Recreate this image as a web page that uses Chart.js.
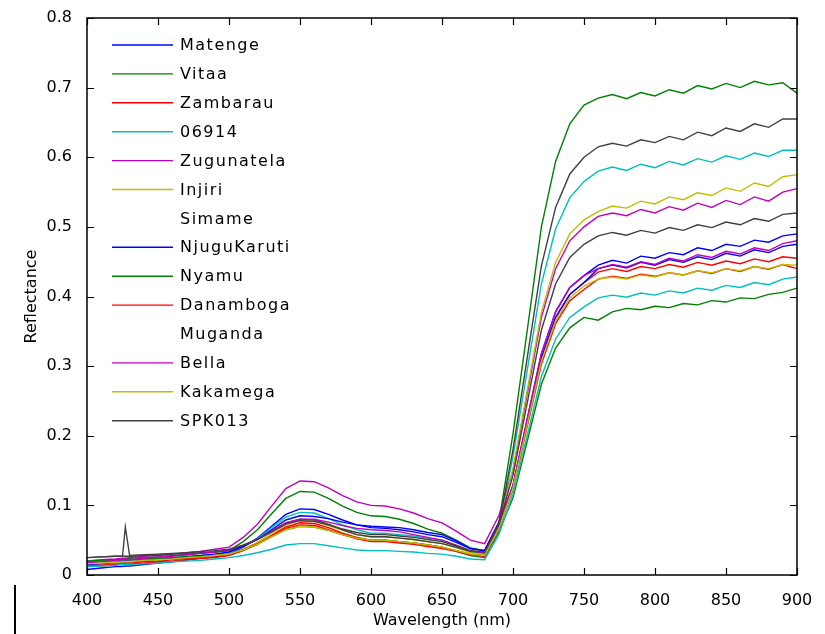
<!DOCTYPE html>
<html>
<head>
<meta charset="utf-8">
<title>Reflectance</title>
<script src="https://cdn.jsdelivr.net/npm/chart.js@4.4.1/dist/chart.umd.min.js"></script>
<style>
  body { margin: 0; background: #fff; }
  #chart { display: block; }
</style>
</head>
<body>
<canvas id="chart" width="825" height="634"></canvas>
<script>
// wavelengths (nm) shared by every curve
var wl = [400,410,420,425,427,430,440,450,460,470,480,490,500,
          510,520,530,540,550,560,570,580,590,600,610,620,630,640,650,
          660,670,680,690,700,710,720,730,740,750,
          760,770,780,790,800,810,820,830,840,850,860,870,880,890,900];

var names = ["Matenge","Vitaa","Zambarau","06914","Zugunatela","Injiri","Simame",
             "NjuguKaruti","Nyamu","Danamboga","Muganda","Bella","Kakamega","SPK013"];

// matlab default line colours, cycling
var colors = ["#0000ff","#008000","#ff0000","#00bfbf","#bf00bf","#bfbf00","#404040",
              "#0000ff","#008000","#ff0000","#00bfbf","#bf00bf","#bfbf00","#404040"];

// legend rows that show no line sample in the figure
var noSample = ["Simame","Muganda"];

var matenge = [.008,.010,.012,.012,.013,.013,.015,.017,.019,.022,.024,.026,.030,
  .040,.053,.070,.087,.095,.094,.087,.079,.072,.068,.067,.065,.062,.058,.055,
  .047,.038,.035,.075,.129,.224,.318,.378,.413,.430,
  .445,.452,.448,.458,.455,.463,.460,.470,.466,.475,.472,.481,.478,.487,.490];
var vitaa = [.020,.021,.022,.023,.023,.024,.025,.026,.028,.029,.031,.033,.035,
  .048,.065,.088,.110,.120,.119,.110,.099,.090,.085,.084,.080,.074,.066,.060,
  .050,.039,.035,.075,.203,.351,.500,.594,.648,.675,
  .685,.690,.684,.693,.688,.697,.692,.703,.698,.706,.700,.709,.704,.707,.692];
var zambarau = [.012,.013,.015,.015,.015,.016,.017,.019,.020,.022,.024,.025,.028,
  .035,.044,.057,.069,.075,.074,.068,.060,.054,.050,.050,.048,.046,.043,.040,
  .035,.030,.028,.068,.126,.218,.311,.370,.403,.420,
  .435,.440,.436,.443,.440,.446,.442,.449,.445,.451,.447,.454,.450,.457,.455];
var v06914 = [.018,.019,.020,.021,.021,.021,.023,.024,.025,.027,.028,.030,.032,
  .041,.052,.068,.083,.090,.089,.081,.072,.065,.060,.060,.058,.056,.053,.050,
  .042,.033,.030,.070,.170,.294,.418,.497,.542,.565,
  .580,.586,.581,.590,.585,.594,.589,.598,.593,.602,.597,.606,.601,.610,.610];
var zugunatela = [.020,.022,.023,.024,.024,.025,.027,.028,.030,.032,.034,.037,.040,
  .054,.073,.099,.124,.135,.134,.125,.114,.105,.100,.099,.095,.089,.081,.075,
  .063,.050,.045,.085,.150,.260,.370,.440,.480,.500,
  .515,.520,.516,.525,.520,.529,.524,.534,.528,.538,.532,.543,.537,.550,.555];
var injiri = [.015,.016,.017,.018,.018,.019,.020,.021,.023,.024,.026,.028,.030,
  .037,.047,.060,.072,.078,.077,.071,.064,.058,.055,.055,.053,.051,.048,.045,
  .039,.032,.030,.070,.153,.265,.377,.449,.490,.510,
  .522,.530,.527,.537,.533,.543,.539,.549,.545,.556,.551,.563,.558,.572,.575];
var simame = [.025,.026,.027,.027,.027,.027,.028,.029,.030,.031,.032,.033,.035,
  .042,.051,.063,.075,.080,.079,.073,.065,.058,.055,.055,.053,.051,.048,.045,
  .040,.034,.032,.072,.180,.312,.444,.528,.576,.600,
  .615,.620,.616,.625,.621,.630,.625,.636,.631,.642,.637,.648,.643,.655,.655];
var njugukaruti = [.015,.016,.018,.019,.019,.019,.021,.023,.024,.026,.028,.030,.033,
  .041,.051,.065,.079,.085,.084,.081,.076,.072,.070,.069,.068,.065,.061,.058,
  .049,.038,.035,.075,.126,.218,.311,.370,.403,.420,
  .440,.445,.441,.449,.445,.453,.449,.457,.453,.462,.458,.467,.463,.472,.475];
var nyamu = [.020,.021,.022,.022,.022,.022,.023,.024,.025,.026,.027,.028,.030,
  .036,.044,.055,.065,.070,.069,.064,.058,.053,.050,.050,.048,.046,.043,.040,
  .034,.028,.025,.062,.111,.192,.274,.326,.355,.370,
  .366,.378,.383,.381,.386,.384,.390,.388,.394,.392,.398,.397,.403,.406,.412];
var danamboga = [.013,.014,.016,.016,.017,.017,.019,.020,.022,.024,.025,.027,.030,
  .036,.045,.056,.067,.072,.071,.065,.058,.052,.048,.048,.046,.044,.041,.038,
  .034,.029,.027,.066,.123,.213,.303,.361,.394,.410,
  .425,.429,.426,.432,.429,.434,.431,.437,.433,.440,.436,.443,.439,.446,.440];
var muganda = [.012,.013,.014,.015,.015,.015,.016,.017,.019,.020,.021,.023,.025,
  .028,.032,.037,.043,.045,.045,.042,.039,.036,.035,.035,.034,.033,.031,.030,
  .027,.023,.022,.058,.116,.200,.285,.339,.370,.385,
  .398,.402,.399,.405,.402,.408,.405,.412,.409,.416,.413,.420,.417,.425,.428];
var bella = [.018,.019,.021,.022,.022,.022,.024,.026,.027,.029,.031,.033,.036,
  .043,.051,.063,.075,.080,.080,.076,.071,.067,.065,.064,.062,.058,.054,.050,
  .043,.035,.032,.072,.129,.224,.318,.378,.413,.430,
  .440,.446,.442,.450,.446,.455,.451,.460,.456,.465,.461,.470,.466,.476,.480];
var kakamega = [.016,.017,.018,.019,.019,.019,.021,.022,.023,.025,.026,.028,.030,
  .036,.044,.055,.065,.070,.069,.064,.058,.053,.050,.050,.048,.046,.043,.040,
  .035,.030,.028,.066,.125,.216,.307,.365,.398,.415,
  .425,.428,.425,.431,.428,.434,.431,.437,.434,.440,.437,.443,.440,.446,.445];
var spk013 = [.025,.026,.027,.027,.069,.028,.029,.030,.031,.032,.034,.035,.037,
  .043,.051,.062,.073,.078,.077,.072,.066,.061,.058,.058,.056,.054,.051,.048,
  .042,.035,.033,.073,.143,.247,.352,.418,.456,.475,
  .487,.492,.488,.495,.491,.499,.495,.503,.499,.507,.503,.512,.508,.518,.520];

var series = [matenge, vitaa, zambarau, v06914, zugunatela, injiri, simame,
              njugukaruti, nyamu, danamboga, muganda, bella, kakamega, spk013];

var yTicks = [0, 0.1, 0.2, 0.3, 0.4, 0.5, 0.6, 0.7, 0.8];
var xTicks = [400, 450, 500, 550, 600, 650, 700, 750, 800, 850, 900];

Chart.defaults.font.family = "'DejaVu Sans', sans-serif";
Chart.defaults.font.size = 16;
Chart.defaults.color = "#000";

var datasets = [];
for (var i = 0; i < names.length; i++) {
	var pts = [];
	for (var k = 0; k < wl.length; k++) {
		pts.push({ x: wl[k], y: series[i][k] });
	}
	datasets.push({
		label: names[i],
		data: pts,
		borderColor: colors[i],
		backgroundColor: colors[i],
		borderWidth: 1.4,
		pointRadius: 0,
		tension: 0,
		fill: false,
		order: names.length - i   // later curves on top, like matlab
	});
}

// box, inward ticks and the in-axes legend
var matlabAxes = {
	id: 'matlabAxes',
	afterDatasetsDraw: function(chart) {
		var ctx = chart.ctx;
		var a = chart.chartArea;
		var xs = chart.scales.x, ys = chart.scales.y;
		var tl = 7;

		ctx.save();
		ctx.strokeStyle = '#000';
		ctx.lineWidth = 1.5;
		ctx.strokeRect(a.left, a.top, a.right - a.left, a.bottom - a.top);

		ctx.lineWidth = 1.2;
		ctx.beginPath();
		xTicks.forEach(function(v) {
			var px = Math.round(xs.getPixelForValue(v)) + 0.5;
			ctx.moveTo(px, a.bottom); ctx.lineTo(px, a.bottom - tl);
			ctx.moveTo(px, a.top); ctx.lineTo(px, a.top + tl);
		});
		yTicks.forEach(function(v) {
			var py = Math.round(ys.getPixelForValue(v)) + 0.5;
			ctx.moveTo(a.left, py); ctx.lineTo(a.left + tl, py);
			ctx.moveTo(a.right, py); ctx.lineTo(a.right - tl, py);
		});
		ctx.stroke();

		// legend
		var x0 = a.left + 25, lineLen = 61, rowTop = a.top + 27, rowH = 28.9;
		ctx.font = "16px 'DejaVu Sans', sans-serif";
		ctx.letterSpacing = "1.5px";
		ctx.textBaseline = 'middle';
		ctx.textAlign = 'left';
		chart.data.datasets.forEach(function(ds, j) {
			var y = rowTop + j * rowH;
			if (noSample.indexOf(ds.label) < 0) {
				ctx.strokeStyle = ds.borderColor;
				ctx.lineWidth = 1.4;
				ctx.beginPath();
				ctx.moveTo(x0, y); ctx.lineTo(x0 + lineLen, y);
				ctx.stroke();
			}
			ctx.fillStyle = '#000';
			ctx.fillText(ds.label, x0 + lineLen + 7, y + 1);
		});

		// stray mark at the lower left of the figure
		ctx.strokeStyle = '#000';
		ctx.lineWidth = 2;
		ctx.beginPath();
		ctx.moveTo(15, 585); ctx.lineTo(15, 634);
		ctx.stroke();
		ctx.restore();
	}
};

new Chart(document.getElementById('chart'), {
	type: 'line',
	data: { datasets: datasets },
	options: {
		responsive: false,
		animation: false,
		layout: { padding: { top: 18, right: 28, left: 0, bottom: 0 } },
		plugins: {
			legend: { display: false },
			tooltip: { enabled: false }
		},
		scales: {
			x: {
				type: 'linear',
				min: 400,
				max: 900,
				afterBuildTicks: function(s) { s.ticks = xTicks.map(function(v) { return { value: v }; }); },
				ticks: { padding: 8, maxRotation: 0, autoSkip: false },
				grid: { display: false },
				border: { display: false },
				title: { display: true, text: 'Wavelength (nm)', padding: { top: 4, bottom: 4 } },
				afterFit: function(s) { s.height = 59; }
			},
			y: {
				min: 0,
				max: 0.8,
				afterBuildTicks: function(s) { s.ticks = yTicks.map(function(v) { return { value: v }; }); },
				ticks: {
					padding: 7,
					callback: function(v) { return v === 0 ? '0' : v.toFixed(1); }
				},
				grid: { display: false },
				border: { display: false },
				title: { display: true, text: 'Reflectance', padding: { top: 22, bottom: 22 } },
				afterFit: function(s) { s.width = 87; }
			}
		}
	},
	plugins: [matlabAxes]
});
</script>
</body>
</html>
